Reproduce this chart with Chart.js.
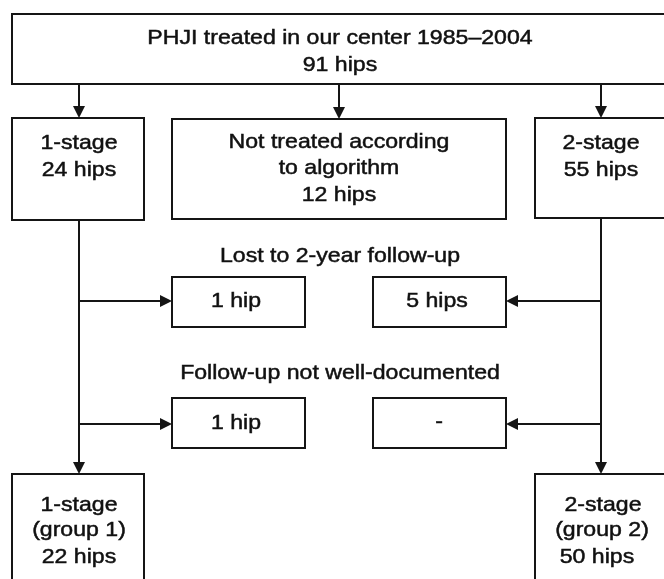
<!DOCTYPE html>
<html>
<head>
<meta charset="utf-8">
<script src="https://cdn.jsdelivr.net/npm/chart.js@4.4.1/dist/chart.umd.min.js"></script>
<style>
  html, body { margin: 0; padding: 0; background: #ffffff; }
  #flujo { display: block; }
</style>
</head>
<body>
<canvas id="flujo" width="664" height="579"></canvas>
<script>
// flowchart content
const titulo = ["PHJI treated in our center 1985\u20132004", "91 hips"];
const etapas = ["1-stage", "Not treated according|to algorithm", "2-stage"];
const caderas = [24, 12, 55];
const perdidos = ["1 hip", "5 hips"];
const noDocumentados = ["1 hip", "-"];
const grupos = ["1-stage|(group 1)", "2-stage|(group 2)"];
const caderasFinal = [22, 50];
const rotulos = ["Lost to 2-year follow-up", "Follow-up not well-documented"];

// layout, in axis units (x: 0..664, y: 0..579 top-down)
const cajas = [
    { x0: 12, x1: 690, y0: 14, y1: 84, cx: 340, ly: [38, 65], txt: titulo },
    { x0: 12, x1: 144, y0: 118, y1: 220, cx: 79, ly: [143, 170], txt: [etapas[0], caderas[0] + " hips"] },
    { x0: 172, x1: 506, y0: 119, y1: 219, cx: 339, ly: [142, 168, 195], txt: etapas[1].split("|").concat([caderas[1] + " hips"]) },
    { x0: 535, x1: 690, y0: 118, y1: 218, cx: 601, ly: [143, 170], txt: [etapas[2], caderas[2] + " hips"] },
    { x0: 172, x1: 305, y0: 277, y1: 327, cx: 236, ly: [301], txt: [perdidos[0]] },
    { x0: 373, x1: 506, y0: 277, y1: 327, cx: 437, ly: [301], txt: [perdidos[1]] },
    { x0: 172, x1: 305, y0: 398, y1: 448, cx: 236, ly: [423], txt: [noDocumentados[0]] },
    { x0: 373, x1: 506, y0: 398, y1: 448, cx: 439, ly: [422], txt: [noDocumentados[1]] },
    { x0: 12, x1: 144, y0: 474, y1: 640, cx: 79, ly: [505, 530, 557], txt: grupos[0].split("|").concat([caderasFinal[0] + " hips"]) },
    { x0: 535, x1: 690, y0: 474, y1: 640, cx: [603, 602, 597], ly: [505, 530, 557], txt: grupos[1].split("|").concat([caderasFinal[1] + " hips"]) }
];

const flechas = [
    [79, 84, 79, 118], [339, 84, 339, 119], [601, 84, 601, 118],
    [79, 220, 79, 474], [601, 218, 601, 474],
    [79, 301, 172, 301], [79, 424, 172, 424],
    [601, 301, 506, 301], [601, 424, 506, 424]
];

const textosSueltos = [
    { cx: 340, y: 256, txt: rotulos[0] },
    { cx: 340, y: 373, txt: rotulos[1] }
];

const dibujarDiagrama = {
    id: "diagrama",
    afterDatasetsDraw(chart) {
        const ctx = chart.ctx;
        const sx = chart.scales.x;
        const sy = chart.scales.y;
        const px = v => sx.getPixelForValue(v);
        const py = v => sy.getPixelForValue(v);

        ctx.save();
        ctx.strokeStyle = "#151515";
        ctx.fillStyle = "#151515";
        ctx.lineWidth = 2;

        // boxes
        cajas.forEach(c => {
            ctx.strokeRect(px(c.x0), py(c.y0), px(c.x1) - px(c.x0), py(c.y1) - py(c.y0));
        });

        // connectors with arrow heads
        flechas.forEach(f => {
            const x0 = px(f[0]), y0 = py(f[1]), x1 = px(f[2]), y1 = py(f[3]);
            const ang = Math.atan2(y1 - y0, x1 - x0);
            const largo = 12, ancho = 6;
            ctx.beginPath();
            ctx.moveTo(x0, y0);
            ctx.lineTo(x1 - Math.cos(ang) * largo, y1 - Math.sin(ang) * largo);
            ctx.stroke();
            ctx.beginPath();
            ctx.moveTo(x1, y1);
            ctx.lineTo(x1 - Math.cos(ang) * largo - Math.sin(ang) * ancho, y1 - Math.sin(ang) * largo + Math.cos(ang) * ancho);
            ctx.lineTo(x1 - Math.cos(ang) * largo + Math.sin(ang) * ancho, y1 - Math.sin(ang) * largo - Math.cos(ang) * ancho);
            ctx.closePath();
            ctx.fill();
        });

        // texts: slightly widened and thickened, like the scanned original
        const escribir = (t, x, y) => {
            ctx.save();
            ctx.translate(x, y);
            ctx.scale(1.1, 1);
            ctx.fillText(t, 0, 0);
            ctx.strokeText(t, 0, 0);
            ctx.restore();
        };
        ctx.font = "21px 'Liberation Sans', Arial, sans-serif";
        ctx.textAlign = "center";
        ctx.textBaseline = "middle";
        ctx.fillStyle = "#111111";
        ctx.strokeStyle = "#111111";
        ctx.lineWidth = 0.5;
        cajas.forEach(c => {
            c.txt.forEach((t, i) => {
                const cx = Array.isArray(c.cx) ? c.cx[i] : c.cx;
                escribir(t, px(cx), py(c.ly[i]));
            });
        });
        textosSueltos.forEach(t => {
            escribir(t.txt, px(t.cx), py(t.y));
        });
        ctx.restore();
    }
};

new Chart(document.getElementById("flujo"), {
    type: "scatter",
    data: {
        datasets: [{
            data: cajas.map(c => ({ x: Array.isArray(c.cx) ? c.cx[0] : c.cx, y: (c.y0 + Math.min(c.y1, 579)) / 2 })),
            pointRadius: 0,
            pointHoverRadius: 0
        }]
    },
    options: {
        responsive: false,
        animation: false,
        events: [],
        layout: { padding: 0 },
        plugins: {
            legend: { display: false },
            tooltip: { enabled: false }
        },
        scales: {
            x: { type: "linear", min: 0, max: 664, display: false },
            y: { type: "linear", min: 0, max: 579, reverse: true, display: false }
        }
    },
    plugins: [dibujarDiagrama]
});
</script>
</body>
</html>
